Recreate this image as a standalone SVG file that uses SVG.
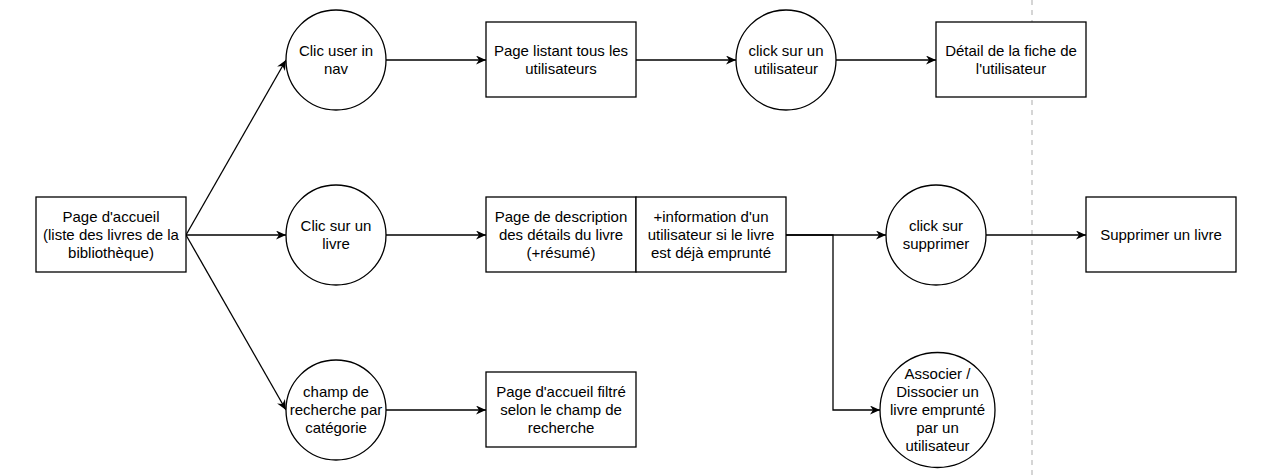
<svg xmlns="http://www.w3.org/2000/svg" width="1270" height="476" viewBox="0 0 1270 476">
<style>
.n{fill:#fff;stroke:#000;stroke-width:1.3}
.t{font-family:"Liberation Sans",Arial,sans-serif;font-size:15px;fill:#000;text-anchor:middle}
.c{fill:none;stroke:#000;stroke-width:1.3}
</style>
<defs>
<marker id="a" markerUnits="userSpaceOnUse" markerWidth="12" markerHeight="10" refX="10" refY="4.5" orient="auto" viewBox="0 0 12 10">
<path d="M0,0 L10,4.5 L0,9 L3,4.5 z" fill="#000"/>
</marker>
</defs>
<rect width="1270" height="476" fill="#fff"/>
<line x1="1032" y1="0" x2="1032" y2="476" stroke="#C8C8C8" stroke-width="1.5" stroke-dasharray="5 5"/>
<g id="connectors">
<path class="c" d="M186,235 L286,60" marker-end="url(#a)"/>
<path class="c" d="M186,235 L286,235" marker-end="url(#a)"/>
<path class="c" d="M186,235 L286,410" marker-end="url(#a)"/>
<path class="c" d="M386,60 L486,60" marker-end="url(#a)"/>
<path class="c" d="M636,60 L736,60" marker-end="url(#a)"/>
<path class="c" d="M836,60 L936,60" marker-end="url(#a)"/>
<path class="c" d="M386,235 L486,235" marker-end="url(#a)"/>
<path class="c" d="M786,235 L886,235" marker-end="url(#a)"/>
<path class="c" d="M986,235 L1086,235" marker-end="url(#a)"/>
<path class="c" d="M786,235 L833,235 L833,410 L880,410" marker-end="url(#a)"/>
<path class="c" d="M386,410 L486,410" marker-end="url(#a)"/>
</g>
<g id="accueil"><rect class="n" x="36" y="197" width="150" height="75"/>
<text class="t" x="111" y="222">Page d'accueil</text><text class="t" x="111" y="240">(liste des livres de la</text><text class="t" x="111" y="258">bibliothèque)</text></g>
<g id="clicUser"><circle class="n" cx="336" cy="60" r="50"/>
<text class="t" x="336" y="56">Clic user in</text><text class="t" x="336" y="74">nav</text></g>
<g id="pageUsers"><rect class="n" x="486" y="22" width="150" height="75"/>
<text class="t" x="561" y="56">Page listant tous les</text><text class="t" x="561" y="74">utilisateurs</text></g>
<g id="clickUser"><circle class="n" cx="786" cy="60" r="50"/>
<text class="t" x="786" y="56">click sur un</text><text class="t" x="786" y="74">utilisateur</text></g>
<g id="detailUser"><rect class="n" x="936" y="22" width="150" height="75"/>
<text class="t" x="1011" y="56">Détail de la fiche de</text><text class="t" x="1011" y="74">l'utilisateur</text></g>
<g id="clicLivre"><circle class="n" cx="336" cy="235" r="50"/>
<text class="t" x="336" y="231">Clic sur un</text><text class="t" x="336" y="249">livre</text></g>
<g id="pageDesc"><rect class="n" x="486" y="197" width="150" height="75"/>
<text class="t" x="561" y="222">Page de description</text><text class="t" x="561" y="240">des détails du livre</text><text class="t" x="561" y="258">(+résumé)</text></g>
<g id="info"><rect class="n" x="636" y="197" width="150" height="75"/>
<text class="t" x="711" y="222">+information d'un</text><text class="t" x="711" y="240">utilisateur si le livre</text><text class="t" x="711" y="258">est déjà emprunté</text></g>
<g id="clickSuppr"><circle class="n" cx="936" cy="235" r="50"/>
<text class="t" x="936" y="231">click sur</text><text class="t" x="936" y="249">supprimer</text></g>
<g id="suppr"><rect class="n" x="1086" y="197" width="150" height="75"/>
<text class="t" x="1161" y="240">Supprimer un livre</text></g>
<g id="associer"><circle class="n" cx="937.5" cy="410" r="57.5"/>
<text class="t" x="937.5" y="379">Associer /</text><text class="t" x="937.5" y="397">Dissocier un</text><text class="t" x="937.5" y="415">livre emprunté</text><text class="t" x="937.5" y="433">par un</text><text class="t" x="937.5" y="451">utilisateur</text></g>
<g id="champ"><circle class="n" cx="336" cy="410" r="50"/>
<text class="t" x="336" y="397">champ de</text><text class="t" x="336" y="415">recherche par</text><text class="t" x="336" y="433">catégorie</text></g>
<g id="filtre"><rect class="n" x="486" y="372" width="150" height="75"/>
<text class="t" x="561" y="397">Page d'accueil filtré</text><text class="t" x="561" y="415">selon le champ de</text><text class="t" x="561" y="433">recherche</text></g>
</svg>
